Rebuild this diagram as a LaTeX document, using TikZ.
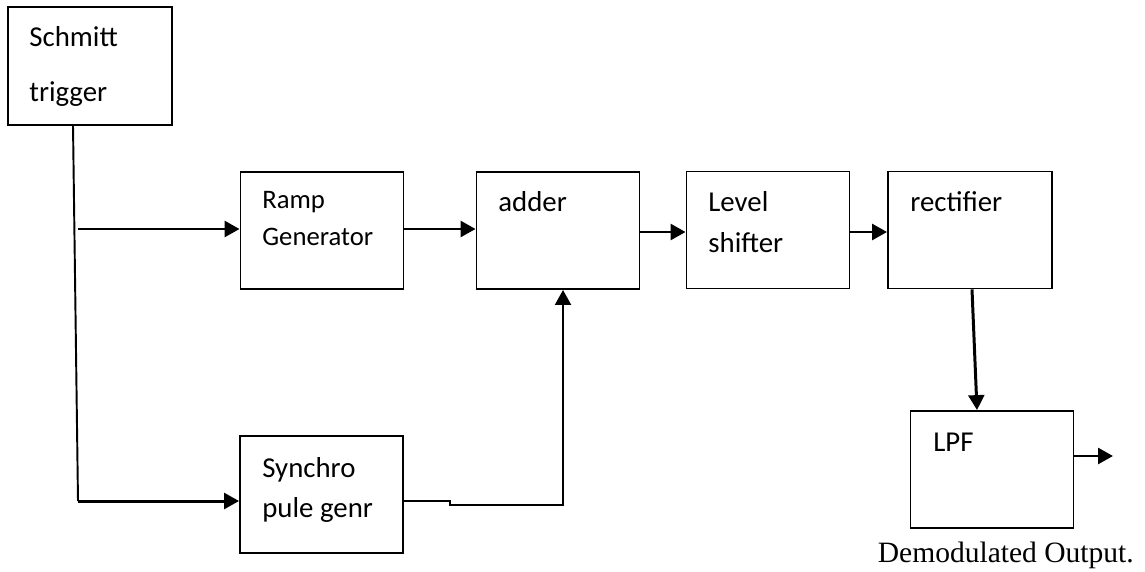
\documentclass[tikz,border=0pt]{standalone}
\usepackage{fontspec}
\setmainfont{Carlito}
\newfontfamily\serifout{Liberation Serif}
\usetikzlibrary{arrows.meta,calc}

\tikzset{
  block/.style={draw,line width=1.1pt,minimum width=3.26cm,minimum height=2.34cm,inner sep=0pt},
  lbl/.style={anchor=base west,inner sep=0pt,font=\fontsize{16.4}{19}\selectfont},
  sig/.style={line width=1.7pt,-{Triangle[length=8.5pt,width=9pt]}},
}

\begin{document}
\begin{tikzpicture}[x=0.02cm,y=-0.02cm]
\useasboundingbox (0,0) rectangle (1145,571);
% blocks
\node[block,minimum height=2.36cm,minimum width=3.28cm] (schmitt) at (90,66) {};
\node[block] (ramp) at (322,230.5) {};
\node[block] (adder) at (558,230.5) {};
\node[block] (level) at (768,230) {};
\node[block,minimum width=3.28cm] (rect) at (970,230) {};
\node[block] (lpf) at (992,469.5) {};
\node[block] (sync) at (321.5,494.5) {};
% texts
\node[lbl] (schmitt-a) at (29,47) {Schmitt};
\node[lbl] (schmitt-b) at (29,102) {trigger};
\node[lbl,font=\fontsize{15.2}{18}\selectfont] (ramp-a) at (262,208) {Ramp};
\node[lbl,font=\fontsize{15.2}{18}\selectfont] (ramp-b) at (262,245) {Generator};
\node[lbl] (adder-a) at (498,211) {adder};
\node[lbl] (level-a) at (708,211) {Level};
\node[lbl] (level-b) at (708,252) {shifter};
\node[lbl] (rect-a) at (910,211) {rectifier};
\node[lbl] (lpf-a) at (933,451) {LPF};
\node[lbl] (sync-a) at (262,477) {Synchro};
\node[lbl] (sync-b) at (262,517) {pule genr};
\node[anchor=base east,inner sep=0pt,font=\serifout\fontsize{16.8}{19}\selectfont] (demod) at (1134,562) {Demodulated Output.};
% connectors
\coordinate (split) at (73,125);
\coordinate (tapb) at (78,501);
\coordinate (tapa) at (78,229);
\coordinate (tapc) at (640,232);
\coordinate (jog) at (450,501);
\coordinate (out) at (1113,456);
\draw[line width=1.1pt] (split) -- (tapb);
\draw[sig] (tapb) -- (tapb -| sync.west);
\draw[sig] (tapa) -- (tapa -| ramp.west);
\draw[sig] (ramp.east |- tapa) -- (tapa -| adder.west);
\draw[sig] (adder.east |- tapc) -- (tapc -| level.west);
\draw[sig] (level.east |- tapc) -- (tapc -| rect.west);
\draw[sig] ($(rect.south)+(2,0)$) -- ($(lpf.north)+(-15,0)$);
\draw[sig] (out -| lpf.east) -- (out);
\draw[sig,line width=1.4pt] (jog -| sync.east) -- (jog) -- ++(0,4) -| ($(adder.south)+(5,0)$);
\end{tikzpicture}
\end{document}
